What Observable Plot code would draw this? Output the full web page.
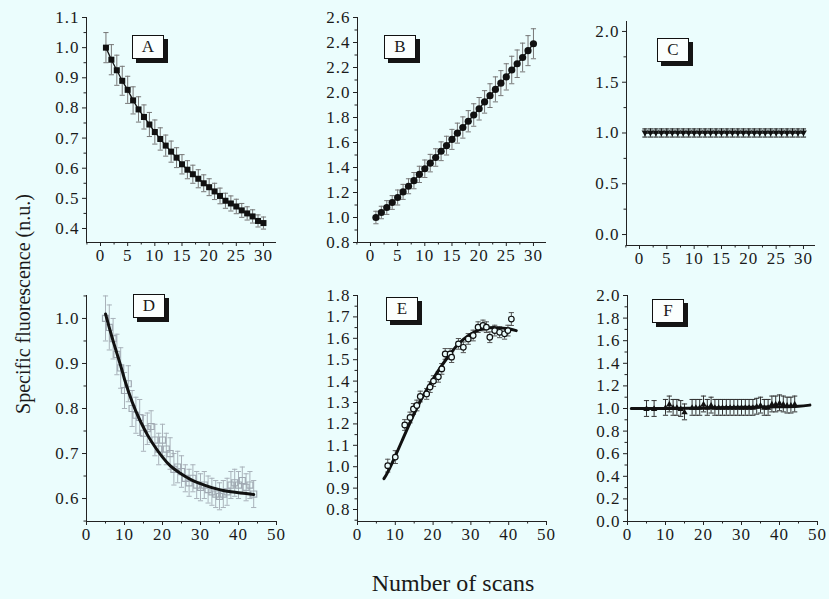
<!DOCTYPE html>
<html><head><meta charset="utf-8">
<script src="https://cdn.jsdelivr.net/npm/d3@7"></script>
<script src="https://cdn.jsdelivr.net/npm/@observablehq/plot@0.6"></script>
<style>
body{margin:0;background:#ebfdfd;}
#wrap{position:relative;width:829px;height:599px;background:#ebfdfd;overflow:hidden;font-family:'Liberation Serif',serif;color:#1a1a1a;}
#wrap svg{position:absolute;left:0;top:0;pointer-events:none;}
.tag{position:absolute;box-sizing:border-box;width:32px;height:24px;border:1.5px solid #111;background:#fbfffe;box-shadow:4px 4px 0 #151515;font-size:17px;line-height:21px;text-align:center;}
#ylab{position:absolute;left:23px;top:304px;transform:translate(-50%,-50%) rotate(-90deg);white-space:nowrap;font-size:20px;}
#xlab{position:absolute;left:453px;top:571px;transform:translateX(-50%);white-space:nowrap;font-size:24px;line-height:24px;}
</style></head>
<body>
<div id="wrap">
  <div id="ylab">Specific fluorescence (n.u.)</div>
  <div id="xlab">Number of scans</div>
</div>
<script>
// ---------- Panel A (filled squares) ----------
const aX = d3.range(1, 31);
const aY = [1.00,0.96,0.925,0.89,0.86,0.825,0.795,0.77,0.745,0.72,0.697,0.675,0.655,0.635,0.613,0.595,0.58,0.565,0.55,0.537,0.523,0.508,0.492,0.483,0.473,0.46,0.45,0.44,0.425,0.418];
const aErr = [0.05,0.05,0.05,0.048,0.045,0.045,0.042,0.04,0.04,0.04,0.037,0.035,0.035,0.033,0.032,0.03,0.03,0.03,0.028,0.028,0.027,0.026,0.025,0.025,0.024,0.023,0.022,0.022,0.02,0.02];
// ---------- Panel B (filled circles) ----------
const bX = d3.range(1, 31);
const bY = [1.00,1.04,1.08,1.12,1.16,1.205,1.25,1.295,1.345,1.39,1.435,1.48,1.53,1.575,1.625,1.675,1.72,1.77,1.82,1.87,1.925,1.975,2.025,2.075,2.125,2.18,2.23,2.28,2.335,2.39];
const bErr = [0.05,0.05,0.055,0.055,0.06,0.06,0.06,0.065,0.065,0.07,0.07,0.07,0.075,0.075,0.08,0.08,0.085,0.085,0.09,0.09,0.09,0.095,0.1,0.1,0.105,0.11,0.11,0.115,0.12,0.12];
// ---------- Panel C (filled down triangles) ----------
const cX = d3.range(1, 31);
const cY = [1.00,1.00,1.00,1.00,1.00,1.00,1.00,1.00,1.00,1.00,1.00,1.00,1.00,1.00,1.00,1.00,1.00,1.00,1.00,1.00,1.00,1.00,1.00,1.00,1.00,1.00,1.00,1.00,1.00,1.00];
const cErr = [0.04,0.04,0.04,0.04,0.04,0.04,0.04,0.04,0.04,0.04,0.04,0.04,0.04,0.04,0.04,0.04,0.04,0.04,0.04,0.04,0.04,0.04,0.04,0.04,0.04,0.04,0.04,0.04,0.04,0.04];
// ---------- Panel D (open squares + fit) ----------
const dX = d3.range(5, 45);
const dY = [1.00,0.98,0.955,0.92,0.89,0.84,0.855,0.80,0.785,0.78,0.745,0.755,0.76,0.73,0.71,0.73,0.71,0.70,0.665,0.67,0.66,0.645,0.635,0.645,0.63,0.625,0.63,0.62,0.615,0.61,0.605,0.61,0.615,0.63,0.635,0.63,0.64,0.625,0.63,0.61];
const dErr = [0.05,0.05,0.045,0.045,0.045,0.04,0.04,0.04,0.04,0.04,0.04,0.035,0.035,0.035,0.035,0.035,0.035,0.035,0.035,0.035,0.035,0.03,0.03,0.03,0.03,0.03,0.03,0.03,0.03,0.03,0.03,0.03,0.03,0.03,0.03,0.03,0.03,0.03,0.03,0.03];
const dFitX = [5,7,9,10,12,14,16,18,20,22,24,26,28,30,32,34,36,38,40,42,44];
const dFitY = [1.01,0.95,0.895,0.865,0.815,0.775,0.742,0.715,0.692,0.673,0.66,0.649,0.64,0.633,0.627,0.622,0.618,0.615,0.613,0.611,0.609];
// ---------- Panel E (open circles + fit) ----------
const eX = [8,10,12.5,13.9,14.8,15.7,16.6,18.3,19.2,20.1,21.4,22.3,23.2,24.5,24.9,26.7,28,29.3,30.6,31.9,33.2,34.1,35,36.3,37.6,38.9,39.8,40.7];
const eY = [1.005,1.045,1.195,1.23,1.27,1.286,1.328,1.34,1.372,1.40,1.42,1.457,1.527,1.527,1.512,1.574,1.558,1.597,1.613,1.652,1.66,1.652,1.605,1.636,1.628,1.621,1.636,1.69];
const eErr = [0.03,0.03,0.025,0.025,0.025,0.025,0.025,0.025,0.025,0.025,0.025,0.025,0.025,0.025,0.025,0.025,0.025,0.025,0.025,0.025,0.025,0.025,0.025,0.025,0.025,0.025,0.025,0.03];
const eFitX = [7,8,10,12,14,16,18,20,22,24,26,28,30,32,34,36,38,40,42];
const eFitY = [0.944,0.975,1.05,1.13,1.21,1.285,1.35,1.41,1.465,1.515,1.56,1.595,1.62,1.638,1.647,1.65,1.648,1.645,1.636];
// ---------- Panel F (filled triangles + fit) ----------
const fX = [5,7,10,11,12,13,14,15,17,18,19,20,21,22,23,24,25,26,27,28,29,30,31,32,33,34,35,36,37,38,39,40,41,42,43,44];
const fY = [1.00,1.00,1.01,1.04,1.01,1.01,1.00,0.97,1.01,1.01,1.01,1.04,1.01,1.03,1.01,1.01,1.01,1.01,1.01,1.01,1.01,1.01,1.01,1.01,1.01,1.02,1.03,1.01,1.01,1.04,1.04,1.05,1.04,1.03,1.03,1.04];
const fErr = [0.07,0.07,0.07,0.07,0.07,0.07,0.07,0.07,0.07,0.07,0.07,0.07,0.07,0.07,0.07,0.07,0.07,0.07,0.07,0.07,0.07,0.07,0.07,0.07,0.07,0.07,0.07,0.07,0.07,0.07,0.07,0.07,0.07,0.07,0.07,0.07];
const fFitX = [1,10,20,30,40,45,48];
const fFitY = [1.00,1.00,1.005,1.01,1.015,1.02,1.03];

// ---------- tick labels ----------
const xTicksTop = [0,5,10,15,20,25,30];
const xMinorTop = [-2.5,2.5,7.5,12.5,17.5,22.5,27.5];
const xTicksBot = [0,10,20,30,40,50];
const xMinorBot = [5,15,25,35,45];
const aTicks = [0.4,0.5,0.6,0.7,0.8,0.9,1.0,1.1], aMinor = [0.45,0.55,0.65,0.75,0.85,0.95,1.05];
const bTicks = [0.8,1.0,1.2,1.4,1.6,1.8,2.0,2.2,2.4,2.6], bMinor = [0.9,1.1,1.3,1.5,1.7,1.9,2.1,2.3,2.5];
const cTicks = [0.0,0.5,1.0,1.5,2.0], cMinor = [0.25,0.75,1.25,1.75];
const dTicks = [0.6,0.7,0.8,0.9,1.0], dMinor = [0.55,0.65,0.75,0.85,0.95,1.05];
const eTicks = [0.8,0.9,1.0,1.1,1.2,1.3,1.4,1.5,1.6,1.7,1.8], eMinor = [0.75,0.85,0.95,1.05,1.15,1.25,1.35,1.45,1.55,1.65,1.75];
const fTicks = [0.0,0.2,0.4,0.6,0.8,1.0,1.2,1.4,1.6,1.8,2.0], fMinor = [0.1,0.3,0.5,0.7,0.9,1.1,1.3,1.5,1.7,1.9];

const rows = (X, Y, E) => X.map((x, i) => ({x, y: Y[i], e: E ? E[i] : 0}));

const capSym = {draw(ctx, size){ const r = Math.sqrt(size/Math.PI); ctx.moveTo(-r,0); ctx.lineTo(r,0); }};
const triDown = {draw(ctx, size){ const r = Math.sqrt(size/Math.PI); ctx.moveTo(0,r); ctx.lineTo(-r,-r*0.75); ctx.lineTo(r,-r*0.75); ctx.closePath(); }};
const triUp = {draw(ctx, size){ const r = Math.sqrt(size/Math.PI); ctx.moveTo(0,-r); ctx.lineTo(-r,r*0.75); ctx.lineTo(r,r*0.75); ctx.closePath(); }};

function errMarks(data, stroke){
  return [
    Plot.ruleX(data, {x: "x", y1: d => d.y - d.e, y2: d => d.y + d.e, stroke, strokeWidth: 1}),
    Plot.dot(data, {x: "x", y: d => d.y + d.e, symbol: capSym, r: 2.6, stroke, fill: "none", strokeWidth: 1}),
    Plot.dot(data, {x: "x", y: d => d.y - d.e, symbol: capSym, r: 2.6, stroke, fill: "none", strokeWidth: 1})
  ];
}

const W = 829, H = 599;
function panel(p){
  const [l, r, t, b] = p.frame;
  return Plot.plot({
    width: W, height: H,
    marginLeft: l, marginRight: W - r, marginTop: t, marginBottom: H - b,
    x: {domain: p.xDomain},
    y: {domain: p.yDomain},
    style: {background: "transparent", overflow: "visible", fontFamily: "'Liberation Serif', serif", fontSize: "17px", letterSpacing: "1px", color: "#1a1a1a"},
    marks: [
      ...p.marks,
      Plot.ruleX([p.xDomain[0]], {stroke: "#222", strokeWidth: 1}),
      Plot.ruleY([p.yDomain[0]], {stroke: "#222", strokeWidth: 1}),
      Plot.axisY({ticks: p.yTicks, tickSize: 4, tickPadding: 3, tickFormat: d => d.toFixed(1), label: null, stroke: "#222"}),
      Plot.axisY({ticks: p.yMinor, tickSize: 2.5, text: null, label: null, stroke: "#222"}),
      Plot.axisX({ticks: p.xTicks, tickSize: 4, tickPadding: 2, tickFormat: d => String(d), label: null, stroke: "#222"}),
      Plot.axisX({ticks: p.xMinor, tickSize: 2.5, text: null, label: null, stroke: "#222"})
    ]
  });
}

const A = rows(aX, aY, aErr), B = rows(bX, bY, bErr), C = rows(cX, cY, cErr);
const D = rows(dX, dY, dErr), E = rows(eX, eY, eErr), F = rows(fX, fY, fErr);
const DF = rows(dFitX, dFitY), EF = rows(eFitX, eFitY), FF = rows(fFitX, fFitY);

const panels = [
  {frame: [86, 276, 17, 242], xDomain: [-2.58, 32.4], yDomain: [0.3535, 1.1], xTicks: xTicksTop, xMinor: xMinorTop, yTicks: aTicks, yMinor: aMinor,
   marks: [...errMarks(A, "#777"), Plot.line(A, {x: "x", y: "y", stroke: "#111", strokeWidth: 1.3}),
           Plot.dot(A, {x: "x", y: "y", symbol: "square", r: 3.4, fill: "#111"})], tag: ["A", 132, 35]},
  {frame: [357, 546, 17, 242], xDomain: [-2.39, 32.4], yDomain: [0.8, 2.6], xTicks: xTicksTop, xMinor: xMinorTop, yTicks: bTicks, yMinor: bMinor,
   marks: [...errMarks(B, "#777"), Plot.line(B, {x: "x", y: "y", stroke: "#111", strokeWidth: 1.3}),
           Plot.dot(B, {x: "x", y: "y", r: 3.6, fill: "#111"})], tag: ["B", 384, 35]},
  {frame: [626, 815, 21, 245], xDomain: [-2.38, 32.2], yDomain: [-0.108, 2.098], xTicks: xTicksTop, xMinor: xMinorTop, yTicks: cTicks, yMinor: cMinor,
   marks: [...errMarks(C, "#111"), Plot.line(C, {x: "x", y: "y", stroke: "#111", strokeWidth: 1.3}),
           Plot.dot(C, {x: "x", y: "y", symbol: triDown, r: 3.4, fill: "#111"})], tag: ["C", 657, 38]},
  {frame: [86, 276, 295, 521], xDomain: [0, 50], yDomain: [0.549, 1.051], xTicks: xTicksBot, xMinor: xMinorBot, yTicks: dTicks, yMinor: dMinor,
   marks: [...errMarks(D, "#a9b2ba"), Plot.dot(D, {x: "x", y: "y", symbol: "square", r: 3.4, stroke: "#a0a9b2", fill: "none", strokeWidth: 1.2}),
           Plot.line(DF, {x: "x", y: "y", stroke: "#111", strokeWidth: 3, curve: "natural"})], tag: ["D", 133, 294]},
  {frame: [357, 546, 295, 521], xDomain: [0, 50], yDomain: [0.744, 1.8], xTicks: xTicksBot, xMinor: xMinorBot, yTicks: eTicks, yMinor: eMinor,
   marks: [...errMarks(E, "#555"), Plot.line(EF, {x: "x", y: "y", stroke: "#111", strokeWidth: 3, curve: "natural"}),
           Plot.dot(E, {x: "x", y: "y", r: 2.8, stroke: "#111", fill: "#ebfdfd", strokeWidth: 1.2})], tag: ["E", 386, 297]},
  {frame: [627, 817, 295, 521], xDomain: [0, 50], yDomain: [0, 2], xTicks: xTicksBot, xMinor: xMinorBot, yTicks: fTicks, yMinor: fMinor,
   marks: [...errMarks(F, "#333"), Plot.line(FF, {x: "x", y: "y", stroke: "#111", strokeWidth: 3, curve: "natural"}),
           Plot.dot(F, {x: "x", y: "y", symbol: triUp, r: 3.2, fill: "#111"})], tag: ["F", 652, 299]}
];

const wrap = document.getElementById("wrap");
for (const p of panels) {
  wrap.appendChild(panel(p));
  const t = document.createElement("div");
  t.className = "tag";
  t.textContent = p.tag[0];
  t.style.left = p.tag[1] + "px";
  t.style.top = p.tag[2] + "px";
  wrap.appendChild(t);
}
</script>
</body></html>
